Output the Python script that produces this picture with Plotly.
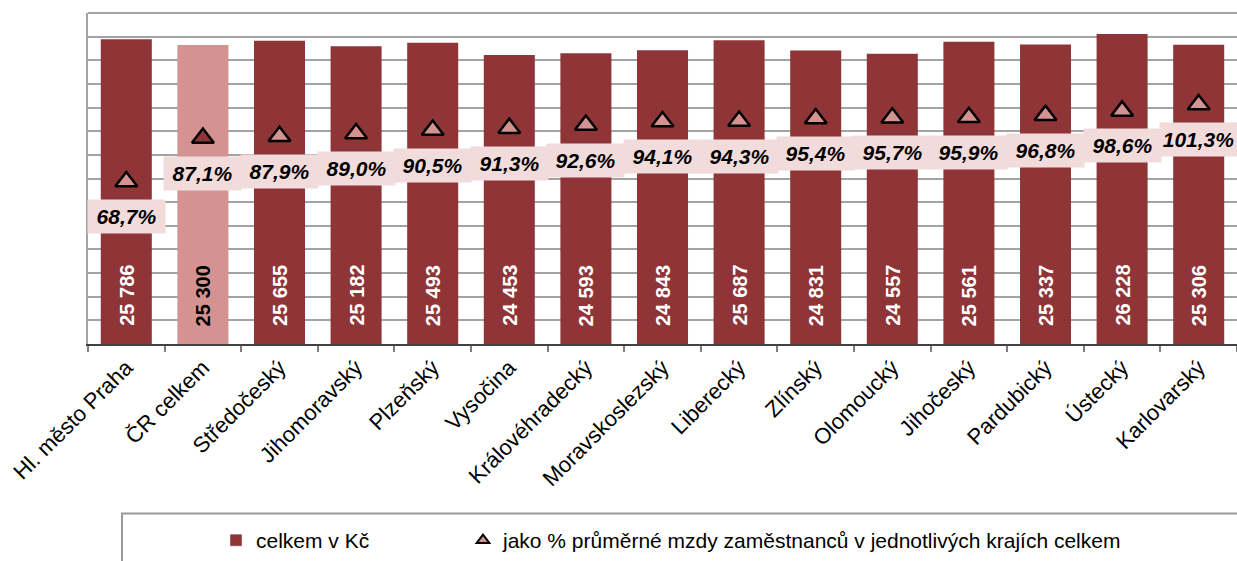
import plotly.graph_objects as go

categories = ["Hl. město Praha", "ČR celkem", "Středočeský", "Jihomoravský", "Plzeňský",
              "Vysočina", "Královéhradecký", "Moravskoslezský", "Liberecký", "Zlínský",
              "Olomoucký", "Jihočeský", "Pardubický", "Ústecký", "Karlovarský"]
wages = [25786, 25300, 25655, 25182, 25493, 24453, 24593, 24843, 25687, 24831,
         24557, 25561, 25337, 26228, 25306]
percent = [68.7, 87.1, 87.9, 89.0, 90.5, 91.3, 92.6, 94.1, 94.3, 95.4,
           95.7, 95.9, 96.8, 98.6, 101.3]

DARK = "#8F3537"
LIGHT = "#D49291"
LABEL_BG = "#F2DCDB"
GRID = "#A3A3A3"
FONT = "Liberation Sans, Arial, sans-serif"

bar_colors = [LIGHT if c == "ČR celkem" else DARK for c in categories]
tri_colors = [DARK if c == "ČR celkem" else LIGHT for c in categories]
text_colors = ["black" if c == "ČR celkem" else "white" for c in categories]

W, H = 1237, 561
ML, MT = 88, 13
PLOT_W, PLOT_H = W - ML, 332
MB = H - MT - PLOT_H


def px_x(px):  # page px -> paper x
    return (px - ML) / PLOT_W


def px_y(py):  # page px -> paper y
    return (MT + PLOT_H - py) / PLOT_H


fig = go.Figure()
fig.add_trace(go.Bar(
    x=categories, y=wages, name="celkem v Kč",
    marker=dict(color=bar_colors, line=dict(width=0)),
    showlegend=False, hoverinfo="skip",
))
fig.add_trace(go.Scatter(
    x=categories, y=percent, yaxis="y2", mode="markers",
    name="jako % průměrné mzdy zaměstnanců v jednotlivých krajích celkem",
    marker=dict(symbol="triangle-up", size=19, color=tri_colors,
                line=dict(color="black", width=2.5)),
    showlegend=False, hoverinfo="skip",
))
# legend entries (no data drawn)
fig.add_trace(go.Bar(x=categories[:1], y=[None], name="celkem v Kč",
                     marker=dict(color=DARK), legend="legend"))
fig.add_trace(go.Scatter(x=categories[:1], y=[None], mode="markers", yaxis="y2",
                         name="jako % průměrné mzdy zaměstnanců v jednotlivých krajích celkem",
                         marker=dict(symbol="triangle-up", size=11, color=LIGHT,
                                     line=dict(color="black", width=2)),
                         legend="legend2"))

annotations = []
for c, v, tc in zip(categories, wages, text_colors):
    annotations.append(dict(
        x=c, y=0, xref="x", yref="y", text="<b>" + f"{v:,}".replace(",", " ") + "</b>",
        textangle=-90, showarrow=False, yanchor="bottom", yshift=16,
        font=dict(family=FONT, size=20, color=tc),
    ))
for c, p in zip(categories, percent):
    annotations.append(dict(
        x=c, y=p, xref="x", yref="y2",
        text="<b><i>" + f"{p:.1f}%".replace(".", ",") + "</i></b>",
        showarrow=False, yshift=-35, bgcolor=LABEL_BG, width=77, height=33,
        borderpad=0, font=dict(family=FONT, size=21, color="black"),
    ))

legend_common = dict(
    orientation="h", xanchor="left", yanchor="middle", y=px_y(542),
    font=dict(family=FONT, size=21, color="black"),
    bgcolor="rgba(0,0,0,0)", borderwidth=0,
)

fig.update_layout(
    width=W, height=H,
    margin=dict(l=ML, r=0, t=MT, b=MB, pad=0),
    paper_bgcolor="white", plot_bgcolor="white",
    barmode="overlay",
    bargap=0.334,
    font=dict(family=FONT, size=20, color="black"),
    xaxis=dict(
        type="category", tickangle=-45, tickson="boundaries", ticks="outside",
        ticklen=6, tickcolor="#808080", tickwidth=1.5,
        showline=True, linecolor="#404040", linewidth=2,
        showgrid=False, tickfont=dict(family=FONT, size=22, color="black"),
        range=[-0.5, 14.5],
    ),
    yaxis=dict(
        range=[0, 28000], dtick=2000, showticklabels=False, ticks="",
        showgrid=True, gridcolor=GRID, gridwidth=2,
        showline=True, linecolor=GRID, linewidth=2, zeroline=False,
    ),
    yaxis2=dict(
        range=[0, 140], overlaying="y", side="right", showticklabels=False,
        showgrid=False, zeroline=False, showline=False, ticks="",
    ),
    legend=dict(x=px_x(216), **legend_common),
    legend2=dict(x=px_x(463), **legend_common),
    shapes=[
        dict(type="rect", xref="paper", yref="paper",
             x0=px_x(122), x1=1.02, y0=px_y(515), y1=-0.75,
             line=dict(color="#9A9A9A", width=2), fillcolor="rgba(0,0,0,0)"),
        dict(type="line", xref="paper", yref="paper", x0=0, x1=1, y0=1, y1=1,
             line=dict(color=GRID, width=2), layer="below"),
    ],
    annotations=annotations,
)

fig.write_html(
    "out.html",
    config={"displayModeBar": False},
    post_script="document.body.style.margin='0px';"
                "document.documentElement.style.overflow='hidden';"
                "document.body.style.overflow='hidden';",
)
